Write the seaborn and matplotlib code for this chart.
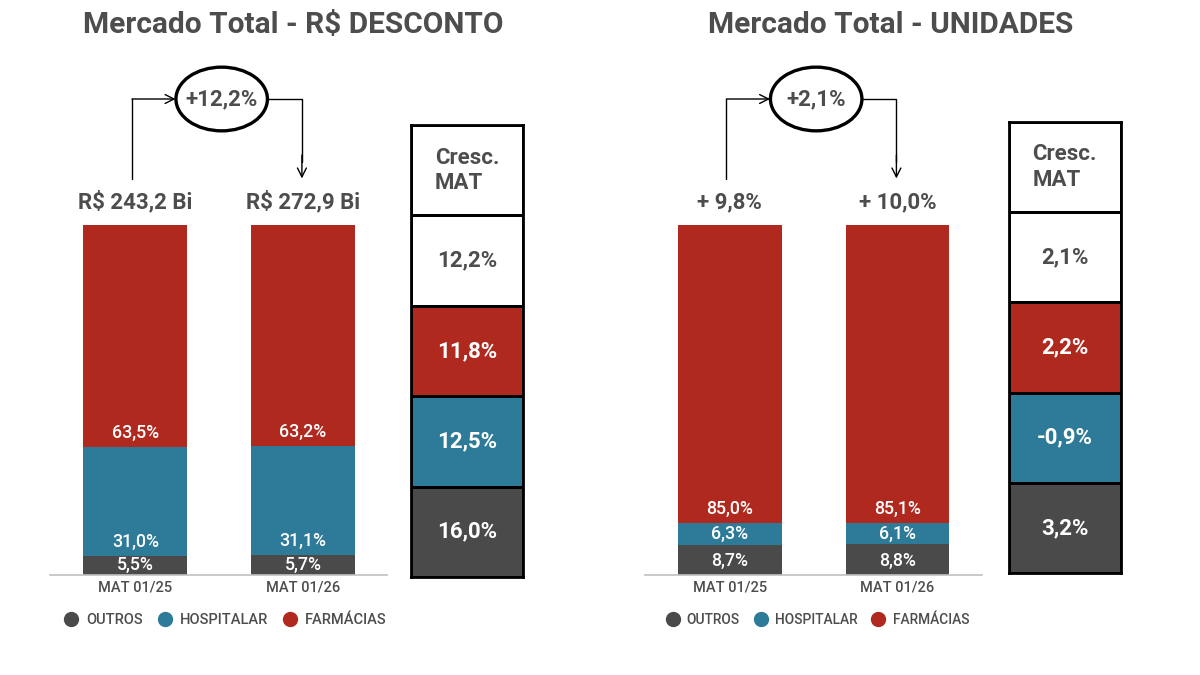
import numpy as np
import pandas as pd
import matplotlib
matplotlib.use('Agg')
import matplotlib.pyplot as plt
from matplotlib.colors import ListedColormap
from matplotlib.lines import Line2D
from matplotlib.patches import Ellipse
import seaborn as sns

# DADOS

periodos = ["MAT 01/25", "MAT 01/26"]
canais = ["OUTROS", "HOSPITALAR", "FARMÁCIAS"]

# R$ DESCONTO - participacao (%) por canal
desc_outros = [5.5, 5.7]
desc_hosp = [31.0, 31.1]
desc_farm = [63.5, 63.2]
desc_topo = ["R$ 243,2 Bi", "R$ 272,9 Bi"]
desc_var = "+12,2%"
desc_cresc = ["12,2%", "11,8%", "12,5%", "16,0%"]   # total, farmacias, hospitalar, outros

# UNIDADES - participacao (%) por canal
un_outros = [8.7, 8.8]
un_hosp = [6.3, 6.1]
un_farm = [85.0, 85.1]
un_topo = ["+ 9,8%", "+ 10,0%"]
un_var = "+2,1%"
un_cresc = ["2,1%", "2,2%", "-0,9%", "3,2%"]

VERMELHO = "#b0291f"
AZUL = "#2e7b99"
CINZA = "#4a4a4a"
TEXTO = "#4d4d4d"

sns.set_style("white")
plt.rcParams['font.family'] = ['Roboto', 'DejaVu Sans']

W, H = 1200, 675
fig = plt.figure(figsize=(12, 6.75), dpi=100)


def px_ax(x0, y_top, x1, y_bot):
    return fig.add_axes([x0 / W, 1 - y_bot / H, (x1 - x0) / W, (y_bot - y_top) / H])


def seta(ax, xy, xytext):
    ax.annotate("", xy=xy, xytext=xytext,
                arrowprops=dict(arrowstyle="->", lw=1, color="black", shrinkA=0, shrinkB=0,
                                mutation_scale=16),
                annotation_clip=False)


def painel(ax, outros, hosp, farm, topo, var):
    df = pd.DataFrame({"periodo": periodos, "outros": outros, "hosp": hosp, "farm": farm})
    df["topo_hosp"] = df["outros"] + df["hosp"]
    df["topo_farm"] = df["topo_hosp"] + df["farm"]
    # barras empilhadas: total por tras, depois os acumulados menores
    for col, cor in [("topo_farm", VERMELHO), ("topo_hosp", AZUL), ("outros", CINZA)]:
        sns.barplot(data=df, x="periodo", y=col, color=cor, saturation=1, width=0.618,
                    errorbar=None, linewidth=0, ax=ax)
    ax.set_xlim(-0.505, 1.5)
    ax.set_ylim(0, 100)
    ax.set_xlabel("")
    ax.set_ylabel("")
    ax.set_yticks([])
    sns.despine(ax=ax, left=True)
    ax.spines["bottom"].set_color("#c0c0c0")
    ax.spines["bottom"].set_linewidth(1.2)
    ax.tick_params(axis="x", length=0, pad=4, labelsize=10.5, labelcolor=TEXTO)
    for t in ax.get_xticklabels():
        t.set_fontweight("medium")

    # rotulos dos segmentos (perto da base de cada segmento)
    for i in range(len(periodos)):
        segs = [(0, outros[i]), (outros[i], hosp[i]), (outros[i] + hosp[i], farm[i])]
        for base, h in segs:
            ax.text(i, base + min(4.0, h / 2), f"{h:.1f}%".replace(".", ","),
                    ha="center", va="center", color="white", fontsize=12.8,
                    fontweight="medium")
        ax.text(i, 106.6, topo[i], ha="center", va="center", color=TEXTO,
                fontsize=16, fontweight="bold", clip_on=False)

    # setas e elipse com a variacao
    y_lin = 136.0
    ax.plot([-0.02, -0.02], [113.2, y_lin], color="black", lw=1, clip_on=False)
    seta(ax, (0.24, y_lin), (-0.02, y_lin))
    ax.plot([0.79, 0.993, 0.993], [y_lin, y_lin, 118], color="black", lw=1, clip_on=False)
    seta(ax, (0.993, 113.3), (0.993, 120))
    ax.add_patch(Ellipse((0.515, y_lin), 0.545, 18.2, facecolor="white", edgecolor="black",
                         lw=2.4, clip_on=False, zorder=5))
    ax.text(0.515, y_lin, var, ha="center", va="center", color=TEXTO, fontsize=16,
            fontweight="bold", zorder=6, clip_on=False)


def caixa(ax, cresc):
    valores = np.array([[0], [0], [1], [2], [3]])
    rotulos = np.array([["Cresc.\nMAT"]] + [[c] for c in cresc])
    cmap = ListedColormap(["white", VERMELHO, AZUL, CINZA])
    sns.heatmap(valores, cmap=cmap, vmin=-0.5, vmax=3.5, cbar=False, annot=rotulos, fmt="",
                annot_kws={"fontsize": 16, "fontweight": "bold"},
                linewidths=2, linecolor="black", ax=ax)
    ax.set_xticks([])
    ax.set_yticks([])
    for s in ax.spines.values():
        s.set_visible(True)
        s.set_linewidth(2)
        s.set_color("black")
    for k, t in enumerate(ax.texts):
        t.set_color(TEXTO if k < 2 else "white")
        if k == 0:
            t.set_multialignment("left")


ax1 = px_ax(50.5, 225, 387, 575)
painel(ax1, desc_outros, desc_hosp, desc_farm, desc_topo, desc_var)
ax2 = px_ax(645, 225, 981.5, 575)
painel(ax2, un_outros, un_hosp, un_farm, un_topo, un_var)

cx1 = px_ax(411, 125, 523, 577)
caixa(cx1, desc_cresc)
cx2 = px_ax(1008.5, 122, 1121, 573)
caixa(cx2, un_cresc)

fig.text(293 / W, 1 - 25 / H, "Mercado Total - R$ DESCONTO", ha="center", va="center",
         color=TEXTO, fontsize=21.5, fontweight="bold")
fig.text(891 / W, 1 - 25 / H, "Mercado Total - UNIDADES", ha="center", va="center",
         color=TEXTO, fontsize=21.5, fontweight="bold")

handles = [Line2D([], [], marker="o", ls="", markersize=10, color=c)
           for c in [CINZA, AZUL, VERMELHO]]
for x0, tam in [(64, 10.5), (666, 9.9)]:
    fig.legend(handles, canais, loc="center left", bbox_to_anchor=(x0 / W, 1 - 620 / H),
               ncol=3, frameon=False, handlelength=0.95,
               handletextpad=0.55, columnspacing=1.05, borderpad=0, borderaxespad=0,
               labelcolor=TEXTO, prop={"size": tam, "weight": "medium"})

fig.savefig("out.png", dpi=100, facecolor="white")
